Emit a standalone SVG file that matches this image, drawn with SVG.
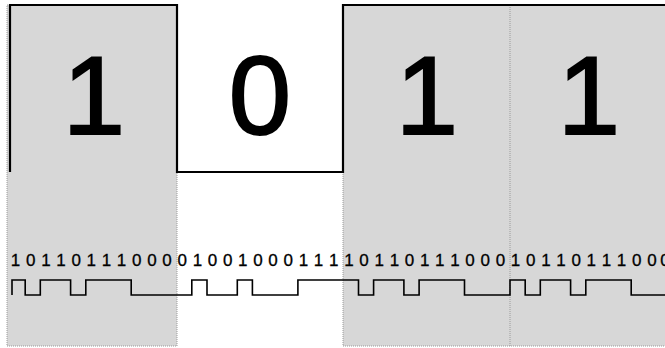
<svg xmlns="http://www.w3.org/2000/svg" width="665" height="348" viewBox="0 0 665 348">
<style>
.col{fill:#d7d7d7;stroke:#9a9a9a;stroke-width:1;stroke-dasharray:1 1}
.big{font-family:"Liberation Sans",Arial,sans-serif;font-size:112px;fill:#000;stroke:#000;stroke-width:2;text-anchor:middle}
.bits{font-family:"Liberation Sans",Arial,sans-serif;font-size:17px;fill:#000;stroke:#000;stroke-width:0.3;text-anchor:middle}
.sig{fill:none;stroke:#000;stroke-width:2.2}
.wave{fill:none;stroke:#000;stroke-width:1.6}
</style>
<rect width="665" height="348" fill="#fff"/>
<g id="bit1">
<rect class="col" x="7" y="5" width="170" height="341"/>
<text class="big" x="94" y="134">1</text>
</g>
<g id="bit0">
<text class="big" x="260" y="134">0</text>
</g>
<g id="bit1b">
<rect class="col" x="343" y="5" width="330" height="341"/>
<line x1="510" y1="5" x2="510" y2="346" stroke="#9a9a9a" stroke-width="1" stroke-dasharray="1 1"/>
<text class="big" x="427" y="134">1</text>
</g>
<g id="bit1c">
<text class="big" x="589" y="134">1</text>
</g>
<g id="signals">
<path class="sig" d="M10,172 V5 H177 V172 H343 V5 H665"/>
<path class="wave" d="M12,295 V280 H25.2 V295 H40.3 V280 H70.6 V295 H85.8 V280 H131.2 V295 H191.8 V280 H207 V295 H237.3 V280 H252.4 V295 H297.9 V280 H358.5 V295 H373.6 V280 H403.9 V295 H419.1 V280 H464.5 V295 H510 V280 H525.2 V295 H540.3 V280 H570.6 V295 H585.8 V280 H631.2 V295 H665"/>
</g>
<text class="bits" y="266" x="15.6 30.7 45.9 61.0 76.2 91.3 106.5 121.6 136.8 151.9 167.1 182.2 197.4 212.5 227.7 242.8 258.0 273.1 288.3 303.4 318.6 333.7 348.9 364.1 379.2 394.4 409.5 424.7 439.8 455.0 470.1 485.3 500.4 515.6 530.7 545.9 561.0 576.2 591.3 606.5 621.6 636.8 651.9 665">10110111000010010001111011011100010110111000</text>
</svg>
